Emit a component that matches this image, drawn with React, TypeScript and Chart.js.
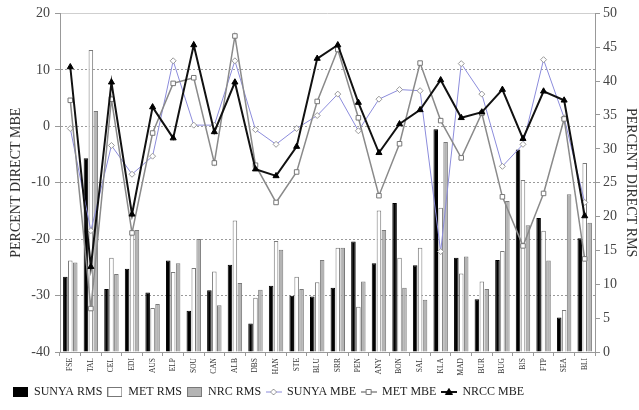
import React, { useEffect, useRef } from 'react';
import { Chart, registerables } from 'chart.js';

Chart.register(...registerables);

const categories = ['FSE', 'TAL', 'CEL', 'EDI', 'AUS', 'ELP', 'SOU', 'CAN', 'ALB', 'DBS', 'HAN', 'STE', 'BLU', 'SRR', 'PEN', 'ANY', 'BON', 'SAL', 'KLA', 'MAD', 'BUR', 'BUG', 'BIS', 'FTP', 'SEA', 'BLI'];

const sunyaRms = [11.1, 28.6, 9.3, 12.3, 8.8, 13.5, 6.1, 9.1, 12.9, 4.2, 9.8, 8.3, 8.2, 9.5, 16.3, 13.1, 22.0, 12.8, 32.9, 13.9, 7.8, 13.6, 29.9, 19.8, 5.1, 16.8];
const metRms = [13.5, 44.6, 13.9, 17.8, 6.5, 11.8, 12.4, 11.9, 19.4, 8.0, 16.4, 11.1, 10.3, 15.4, 6.7, 20.9, 13.9, 15.4, 21.3, 11.6, 10.4, 14.9, 25.4, 17.9, 6.2, 27.9];
const nrcRms = [13.2, 35.6, 11.5, 18.0, 7.1, 13.1, 16.7, 6.9, 10.2, 9.2, 15.1, 9.3, 13.6, 15.4, 10.4, 18.0, 9.5, 7.7, 31.0, 14.1, 9.3, 22.3, 18.7, 13.5, 23.3, 19.1];

const sunyaMbe = [-0.4, -18.5, -3.4, -8.5, -5.3, 11.6, 0.2, 0.2, 11.6, -0.6, -3.2, -0.4, 1.9, 5.7, -0.8, 4.8, 6.5, 6.3, -22.2, 11.1, 5.7, -7.1, -3.2, 11.8, 1.5, -13.5];
const metMbe = [4.6, -32.3, 4.8, -18.9, -1.2, 7.6, 8.6, -6.5, 16.0, -6.9, -13.5, -8.1, 4.4, 13.6, 1.5, -12.3, -3.1, 11.2, 1.0, -5.6, 2.3, -12.5, -21.2, -11.9, 1.3, -23.5];
const nrccMbe = [10.5, -24.9, 7.8, -15.6, 3.4, -2.1, 14.4, -1.0, 7.8, -7.6, -8.8, -3.6, 12.0, 14.4, 4.2, -4.7, 0.4, 2.9, 8.2, 1.5, 2.5, 6.5, -2.2, 6.2, 4.6, -15.9];

const mbeTicks = { min: -40, max: 20, step: 10 };
const rmsTicks = { min: 0, max: 50, step: 5 };

const FONT = "'Liberation Serif', 'Times New Roman', serif";

function boxIcon(fill: string, stroke: string) {
  const c = document.createElement('canvas');
  c.width = 15;
  c.height = 10;
  const g = c.getContext('2d')!;
  g.fillStyle = fill;
  g.fillRect(0.5, 0.5, 14, 9);
  g.strokeStyle = stroke;
  g.lineWidth = 1;
  g.strokeRect(0.5, 0.5, 14, 9);
  return c;
}

function lineIcon(color: string, lw: number, marker: string, mFill: string, mStroke: string) {
  const c = document.createElement('canvas');
  c.width = 16;
  c.height = 10;
  const g = c.getContext('2d')!;
  g.strokeStyle = color;
  g.lineWidth = lw;
  g.beginPath();
  g.moveTo(0, 5);
  g.lineTo(16, 5);
  g.stroke();
  g.fillStyle = mFill;
  g.strokeStyle = mStroke;
  g.lineWidth = 1;
  g.beginPath();
  if (marker === 'diamond') {
    g.moveTo(8, 2);
    g.lineTo(11, 5);
    g.lineTo(8, 8);
    g.lineTo(5, 5);
    g.closePath();
  } else if (marker === 'square') {
    g.rect(5.5, 2.5, 5, 5);
  } else {
    g.moveTo(8, 1.5);
    g.lineTo(11.5, 7.5);
    g.lineTo(4.5, 7.5);
    g.closePath();
  }
  g.fill();
  g.stroke();
  return c;
}

export default function App() {
  const ref = useRef<HTMLCanvasElement>(null);

  useEffect(() => {
    const canvas = ref.current!;
    const icons = [
      boxIcon('#000', '#000'),
      boxIcon('#fff', '#777'),
      boxIcon('#b4b4b4', '#777'),
      lineIcon('#8c8cdc', 1, 'diamond', '#fff', '#999'),
      lineIcon('#8a8a8a', 1.5, 'square', '#fff', '#777'),
      lineIcon('#111', 2, 'triangle', '#000', '#000'),
    ];
    const chart = new Chart(canvas, {
      type: 'bar',
      data: {
        labels: categories,
        datasets: [
          { type: 'bar', label: 'SUNYA RMS', data: sunyaRms, yAxisID: 'y1', backgroundColor: '#000', borderColor: '#000', borderWidth: 1, order: 4, categoryPercentage: 0.72, barPercentage: 0.92 },
          { type: 'bar', label: 'MET RMS', data: metRms, yAxisID: 'y1', backgroundColor: '#fff', borderColor: '#7a7a7a', borderWidth: 1, order: 5, categoryPercentage: 0.72, barPercentage: 0.92 },
          { type: 'bar', label: 'NRC RMS', data: nrcRms, yAxisID: 'y1', backgroundColor: '#b4b4b4', borderColor: '#7a7a7a', borderWidth: 1, order: 6, categoryPercentage: 0.72, barPercentage: 0.92 },
          { type: 'line', label: 'SUNYA MBE', data: sunyaMbe, yAxisID: 'y', borderColor: '#8c8cdc', borderWidth: 1, pointStyle: 'rectRot', pointRadius: 3, pointBackgroundColor: '#fff', pointBorderColor: '#999', pointBorderWidth: 1, order: 3, tension: 0 },
          { type: 'line', label: 'MET MBE', data: metMbe, yAxisID: 'y', borderColor: '#8a8a8a', borderWidth: 1.5, pointStyle: 'rect', pointRadius: 3.2, pointBackgroundColor: '#fff', pointBorderColor: '#777', pointBorderWidth: 1, order: 2, tension: 0 },
          { type: 'line', label: 'NRCC MBE', data: nrccMbe, yAxisID: 'y', borderColor: '#111', borderWidth: 2, pointStyle: 'triangle', pointRadius: 3.5, pointBackgroundColor: '#000', pointBorderColor: '#000', pointBorderWidth: 1, order: 1, tension: 0 },
        ] as any,
      },
      options: {
        responsive: false,
        animation: false,
        devicePixelRatio: 1,
        layout: { padding: { left: 8, right: 0, top: 12, bottom: 2 } },
        plugins: {
          tooltip: { enabled: false },
          legend: {
            position: 'bottom',
            align: 'start',
            labels: {
              usePointStyle: true,
              pointStyleWidth: 15,
              boxHeight: 10,
              padding: 5,
              color: '#222',
              font: { family: FONT, size: 12 },
              sort: (a: any, b: any) => a.datasetIndex - b.datasetIndex,
              generateLabels: (ch: any) => {
                const items = Chart.defaults.plugins.legend.labels.generateLabels(ch);
                return items.map((it: any) => ({ ...it, pointStyle: icons[it.datasetIndex], rotation: 0 }));
              },
            },
          },
        },
        scales: {
          x: {
            offset: true,
            grid: { drawOnChartArea: false, drawTicks: true, tickLength: 4, color: '#999', offset: true },
            border: { color: '#999' },
            ticks: { autoSkip: false, minRotation: 90, maxRotation: 90, color: '#333', padding: 2, font: { family: FONT, size: 7.5 } },
            afterFit: (s: any) => { s.height = 29; },
          },
          y: {
            position: 'left',
            min: mbeTicks.min,
            max: mbeTicks.max,
            ticks: { stepSize: mbeTicks.step, color: '#444', padding: 5, font: { family: FONT, size: 14 } },
            grid: {
              color: (c: any) => (c.tick && (c.tick.value === 20 || c.tick.value === -40) ? 'rgba(0,0,0,0)' : '#9a9a9a'),
              tickColor: '#999',
              tickLength: 5,
            },
            border: { color: '#999', dash: [2, 2] },
            title: { display: true, text: 'PERCENT DIRECT MBE', color: '#333', padding: 0, font: { family: FONT, size: 14 } },
            afterFit: (s: any) => { s.width = 52; },
          },
          y1: {
            position: 'right',
            min: rmsTicks.min,
            max: rmsTicks.max,
            ticks: { stepSize: rmsTicks.step, color: '#444', padding: 3, font: { family: FONT, size: 14 } },
            grid: {
              color: (c: any) => (c.tick && c.tick.value === 50 ? '#cfcfcf' : 'rgba(0,0,0,0)'),
              tickColor: '#999',
              tickLength: 5,
            },
            border: { color: '#999' },
            title: { display: true, text: 'PERCENT DIRECT RMS', color: '#333', padding: 0, font: { family: FONT, size: 14 } },
            afterFit: (s: any) => { s.width = 44; },
          },
        },
      } as any,
    });
    return () => chart.destroy();
  }, []);

  return (
    <div style={{ position: 'absolute', left: 0, top: 0, width: 639, height: 410, background: '#fff' }}>
      <canvas ref={ref} width={639} height={410} style={{ display: 'block', width: 639, height: 410 }} />
    </div>
  );
}
